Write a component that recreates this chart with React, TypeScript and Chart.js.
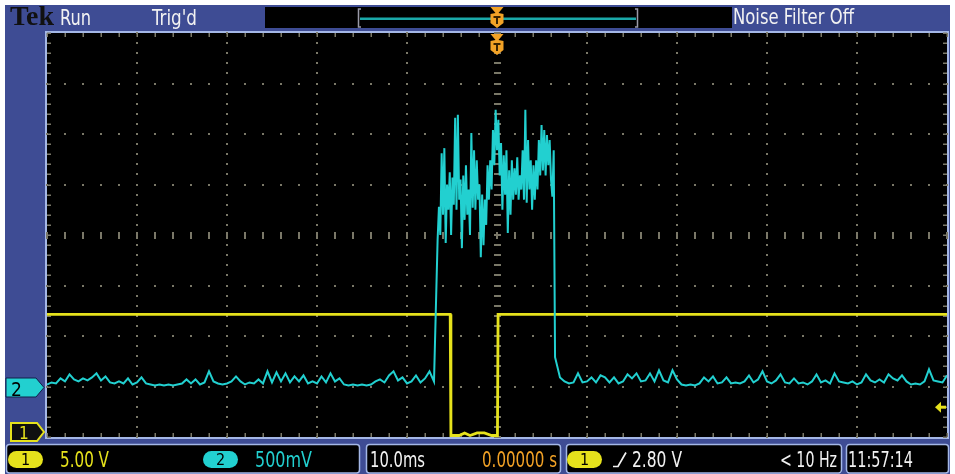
import React, { useEffect, useLayoutEffect, useRef } from "react";
import { Chart, registerables } from "chart.js";
Chart.register(...registerables);

// ---------------- data ----------------
// horizontal: 10.0 ms/div, 10 divisions, trigger at 0 s (centre)
const timeRangeMs = [-50, 50];
const timeMajorMs = 10;
const timeMinorMs = 2;
// vertical graticule in divisions
const divRange = [-4, 4];
const divMinor = 0.2;

// Channel 1 (yellow) 5.00 V/div
const ch1VoltsPerDiv = 5;
const ch1OffsetDiv = -3.97;
const ch1Time = [-50, -5.2, -5.12, -4.2, -3.6, -3.0, -2.2, -1.4, -0.6, 0.05, 0.12, 50];
const ch1Volts = [12, 12, 0, 0, 0.25, 0, 0.25, 0.25, 0, 0, 12, 12];
const triggerLevelV = 2.8;
const triggerTimeMs = 0;

// Channel 2 (cyan) 500 mV/div
const ch2VoltsPerDiv = 0.5;
const ch2OffsetDiv = -3.02;
const ch2LeftStart = -50;
const ch2LeftStep = 0.5;
const ch2Left = [
  0.03, 0.05, 0.04, 0.09, 0.06, 0.13, 0.08, 0.06, 0.09, 0.07,
  0.10, 0.14, 0.07, 0.11, 0.05, 0.04, 0.06, 0.04, 0.09, 0.03,
  0.05, 0.10, 0.04, 0.03, 0.02, 0.03, 0.02, 0.03, 0.02, 0.03,
  0.04, 0.08, 0.04, 0.08, 0.03, 0.05, 0.16, 0.06, 0.04, 0.03,
  0.04, 0.06, 0.11, 0.06, 0.03, 0.05, 0.04, 0.08, 0.04, 0.16,
  0.05, 0.15, 0.06, 0.14, 0.05, 0.11, 0.06, 0.12, 0.04, 0.06,
  0.04, 0.11, 0.05, 0.14, 0.06, 0.09, 0.03, 0.02, 0.03, 0.02,
  0.03, 0.02, 0.03, 0.06, 0.08, 0.05, 0.12, 0.16, 0.07, 0.10,
  0.04, 0.06, 0.12, 0.05, 0.09, 0.16, 0.06,
];
const ch2BurstStart = -6.6;
const ch2BurstStep = 0.15;
const ch2Burst = [
  1.46, 1.79, 1.51, 2.32, 1.71, 2.37, 1.43, 2.01, 1.76, 2.13,
  1.51, 2.08, 1.81, 2.67, 1.76, 2.70, 1.86, 2.06, 1.38, 2.10,
  1.66, 2.20, 1.71, 1.96, 1.51, 2.52, 1.78, 2.35, 1.76, 2.25,
  1.86, 2.01, 1.29, 1.91, 1.41, 1.86, 1.61, 2.20, 1.86, 2.25,
  1.96, 2.55, 2.20, 2.75, 2.35, 2.65, 2.10, 2.42, 1.76, 2.30,
  1.91, 2.35, 1.53, 2.15, 1.71, 2.25, 1.86, 2.17, 1.91, 2.28,
  1.86, 2.10, 1.96, 2.35, 1.86, 2.75, 1.83, 2.45, 1.96, 2.25,
  1.76, 2.20, 1.86, 2.25, 1.96, 2.45, 2.10, 2.60, 2.15, 2.55,
  2.10, 2.50, 2.20, 2.45, 2.06, 1.89, 2.35, 0.30,
];
const ch2RightStart = 7.0;
const ch2RightStep = 0.5;
const ch2Right = [
  0.10, 0.06, 0.04, 0.05, 0.14, 0.05, 0.06, 0.10, 0.05, 0.12,
  0.10, 0.05, 0.10, 0.04, 0.06, 0.13, 0.09, 0.14, 0.06, 0.07,
  0.14, 0.06, 0.17, 0.07, 0.05, 0.17, 0.08, 0.03, 0.02, 0.03,
  0.02, 0.04, 0.10, 0.06, 0.11, 0.04, 0.05, 0.10, 0.04, 0.05,
  0.04, 0.06, 0.12, 0.05, 0.08, 0.16, 0.06, 0.04, 0.07, 0.13,
  0.05, 0.04, 0.09, 0.04, 0.05, 0.03, 0.06, 0.13, 0.05, 0.07,
  0.04, 0.14, 0.06, 0.05, 0.04, 0.06, 0.03, 0.05, 0.13, 0.07,
  0.05, 0.08, 0.05, 0.13, 0.09, 0.07, 0.12, 0.06, 0.03, 0.04,
  0.03, 0.06, 0.18, 0.07, 0.06, 0.05, 0.12,
];

// ---------------- styles ----------------
const YELLOW = "#e6e21c";
const CYAN = "#22d0d0";
const BLUE = "#3e4c94";
const EDGE = "#a4b7e6";
const GRID = "#7a7868";
const ORANGE = "#f2a226";
const FONT = '"DejaVu Sans Condensed", "DejaVu Sans", sans-serif';

const seg = (start: number, step: number, vals: number[]) =>
  vals.map((v, i) => ({ x: start + i * step, y: ch2OffsetDiv + v / ch2VoltsPerDiv }));

function roundBox(ctx: CanvasRenderingContext2D, x: number, y: number, w: number, h: number, r: number) {
  ctx.beginPath();
  ctx.moveTo(x + r, y);
  ctx.lineTo(x + w - r, y);
  ctx.quadraticCurveTo(x + w, y, x + w, y + r);
  ctx.lineTo(x + w, y + h - r);
  ctx.quadraticCurveTo(x + w, y + h, x + w - r, y + h);
  ctx.lineTo(x + r, y + h);
  ctx.quadraticCurveTo(x, y + h, x, y + h - r);
  ctx.lineTo(x, y + r);
  ctx.quadraticCurveTo(x, y, x + r, y);
  ctx.closePath();
}

function drawT(ctx: CanvasRenderingContext2D, cx: number, top: number) {
  ctx.fillStyle = ORANGE;
  ctx.beginPath();
  ctx.moveTo(cx - 6.5, top);
  ctx.lineTo(cx + 6.5, top);
  ctx.lineTo(cx + 1.5, top + 6);
  ctx.lineTo(cx + 6.5, top + 7);
  ctx.lineTo(cx + 6.5, top + 16);
  ctx.lineTo(cx, top + 21);
  ctx.lineTo(cx - 6.5, top + 16);
  ctx.lineTo(cx - 6.5, top + 7);
  ctx.lineTo(cx - 1.5, top + 6);
  ctx.closePath();
  ctx.fill();
  ctx.fillStyle = "#3a2400";
  ctx.fillRect(cx - 3.5, top + 9, 7, 2);
  ctx.fillRect(cx - 1, top + 9, 2, 8);
}

const scopePlugin = {
  id: "scope",
  beforeDraw(chart: any) {
    const ctx: CanvasRenderingContext2D = chart.ctx;
    const a = chart.chartArea;
    const W = chart.width, H = chart.height;
    ctx.save();
    ctx.fillStyle = "#ffffff";
    ctx.fillRect(0, 0, W, H);
    ctx.fillStyle = BLUE;
    ctx.fillRect(5, 5, 945, 469);
    // record view bar
    ctx.fillStyle = "#000";
    ctx.fillRect(265, 7, 467, 21);
    ctx.strokeStyle = "#9a9aa8";
    ctx.lineWidth = 1.5;
    ctx.beginPath();
    ctx.moveTo(361, 9); ctx.lineTo(358.5, 9); ctx.lineTo(358.5, 27); ctx.lineTo(361, 27);
    ctx.moveTo(635, 9); ctx.lineTo(637.5, 9); ctx.lineTo(637.5, 27); ctx.lineTo(635, 27);
    ctx.stroke();
    ctx.fillStyle = "#1aa9a9";
    ctx.fillRect(360, 17.5, 276, 2.5);
    // plot area
    ctx.fillStyle = "#000";
    ctx.fillRect(a.left, a.top, a.right - a.left, a.bottom - a.top);
    ctx.strokeStyle = EDGE;
    ctx.lineWidth = 2;
    ctx.strokeRect(a.left - 1, a.top - 1, a.right - a.left + 2, a.bottom - a.top + 2);
    // status boxes
    const boxes = [[6, 360], [366, 561], [566, 842], [846, 949]];
    for (const [x0, x1] of boxes) {
      roundBox(ctx, x0 + 0.5, 444.5, x1 - x0 - 1, 28.5, 3);
      ctx.fillStyle = "#000";
      ctx.fill();
      ctx.strokeStyle = EDGE;
      ctx.lineWidth = 1.5;
      ctx.stroke();
    }
    ctx.fillStyle = BLUE;
    for (const gx of [363, 563.5, 844]) {
      ctx.beginPath();
      ctx.moveTo(gx - 4, 443); ctx.lineTo(gx + 4, 443); ctx.lineTo(gx, 449); ctx.closePath(); ctx.fill();
      ctx.beginPath();
      ctx.moveTo(gx - 4, 474); ctx.lineTo(gx + 4, 474); ctx.lineTo(gx, 468); ctx.closePath(); ctx.fill();
    }
    ctx.restore();
  },
  beforeDatasetsDraw(chart: any) {
    const ctx: CanvasRenderingContext2D = chart.ctx;
    const a = chart.chartArea;
    const xs = chart.scales.x, ys = chart.scales.y;
    ctx.save();
    ctx.fillStyle = GRID;
    const nXMinor = Math.round((timeRangeMs[1] - timeRangeMs[0]) / timeMinorMs);
    const nYMinor = Math.round((divRange[1] - divRange[0]) / divMinor);
    const xMinorPx: number[] = [];
    for (let i = 0; i <= nXMinor; i++) xMinorPx.push(Math.round(xs.getPixelForValue(timeRangeMs[0] + i * timeMinorMs)));
    const yMinorPx: number[] = [];
    for (let i = 0; i <= nYMinor; i++) yMinorPx.push(Math.round(ys.getPixelForValue(divRange[0] + i * divMinor)));
    const cx = Math.round(xs.getPixelForValue(triggerTimeMs));
    const cy = Math.round(ys.getPixelForValue(0));
    // dotted major lines
    for (let t = timeRangeMs[0] + timeMajorMs; t < timeRangeMs[1]; t += timeMajorMs) {
      const px = Math.round(xs.getPixelForValue(t));
      if (px === cx) continue;
      for (const py of yMinorPx) ctx.fillRect(px - 1, py - 1, 2, 2);
    }
    for (let d = divRange[0] + 1; d < divRange[1]; d += 1) {
      const py = Math.round(ys.getPixelForValue(d));
      if (py === cy) continue;
      for (const px of xMinorPx) ctx.fillRect(px - 1, py - 1, 2, 2);
    }
    // centre cross with minor ticks
    for (const py of yMinorPx) ctx.fillRect(cx - 3, py - 1, 7, 2);
    for (const px of xMinorPx) ctx.fillRect(px - 1, cy - 3, 2, 7);
    // edge ticks
    for (const px of xMinorPx) {
      ctx.fillRect(px - 0.5, a.top, 1.5, 4);
      ctx.fillRect(px - 0.5, a.bottom - 4, 1.5, 4);
    }
    for (const py of yMinorPx) {
      ctx.fillRect(a.left, py - 0.5, 4, 1.5);
      ctx.fillRect(a.right - 4, py - 0.5, 4, 1.5);
    }
    ctx.restore();
  },
  afterDraw(chart: any) {
    const ctx: CanvasRenderingContext2D = chart.ctx;
    const a = chart.chartArea;
    const xs = chart.scales.x, ys = chart.scales.y;
    ctx.save();
    const tx = xs.getPixelForValue(triggerTimeMs);
    drawT(ctx, tx, 7);
    drawT(ctx, tx, a.top + 1);
    // channel 2 marker
    const y2 = ys.getPixelForValue(ch2OffsetDiv);
    ctx.beginPath();
    ctx.moveTo(6, y2 - 9.5); ctx.lineTo(36, y2 - 9.5); ctx.lineTo(44, y2); ctx.lineTo(36, y2 + 9.5); ctx.lineTo(6, y2 + 9.5);
    ctx.closePath();
    ctx.fillStyle = CYAN;
    ctx.fill();
    ctx.strokeStyle = "#10204a";
    ctx.lineWidth = 1;
    ctx.stroke();
    // channel 1 marker (clipped at bottom)
    const y1 = Math.min(ys.getPixelForValue(ch1OffsetDiv), a.bottom - 5);
    ctx.beginPath();
    ctx.moveTo(11, y1 - 9); ctx.lineTo(37, y1 - 9); ctx.lineTo(44, y1); ctx.lineTo(37, y1 + 9); ctx.lineTo(11, y1 + 9);
    ctx.closePath();
    ctx.fillStyle = "#101010";
    ctx.fill();
    ctx.strokeStyle = YELLOW;
    ctx.lineWidth = 2;
    ctx.stroke();
    // trigger level arrow
    const yt = ys.getPixelForValue(ch1OffsetDiv + triggerLevelV / ch1VoltsPerDiv);
    ctx.fillStyle = YELLOW;
    ctx.beginPath();
    ctx.moveTo(a.right - 12, yt); ctx.lineTo(a.right - 6, yt - 5.5); ctx.lineTo(a.right - 6, yt + 5.5); ctx.closePath();
    ctx.fill();
    ctx.fillRect(a.right - 7, yt - 1.5, 6, 3);
    ctx.restore();
  },
};

function Txt(props: { x: number; cap: number; size: number; color: string; w?: number; family?: string; weight?: string; capOff?: number; children: any }) {
  const ref = useRef<HTMLSpanElement>(null);
  useLayoutEffect(() => {
    const el = ref.current;
    if (!el || !props.w) return;
    el.style.transform = "none";
    const nat = el.getBoundingClientRect().width;
    if (nat > 0) el.style.transform = `scaleX(${props.w / nat})`;
  });
  const off = props.capOff ?? 0.116;
  return (
    <span
      ref={ref}
      style={{
        position: "absolute",
        left: props.x,
        top: props.cap - off * props.size,
        fontSize: props.size,
        lineHeight: `${props.size}px`,
        color: props.color,
        fontFamily: props.family || FONT,
        fontWeight: (props.weight as any) || "normal",
        whiteSpace: "nowrap",
        transformOrigin: "0 0",
      }}
    >
      {props.children}
    </span>
  );
}

function Pill(props: { x: number; bg: string; label: string }) {
  return (
    <div
      style={{
        position: "absolute", left: props.x, top: 451, width: 35, height: 17, borderRadius: 9,
        background: props.bg, color: "#000", fontFamily: FONT, fontSize: 16, lineHeight: "17px",
        textAlign: "center",
      }}
    >
      {props.label}
    </div>
  );
}

export default function App() {
  const canvasRef = useRef<HTMLCanvasElement>(null);
  useEffect(() => {
    document.body.style.margin = "0";
    const canvas = canvasRef.current;
    if (!canvas) return;
    const ch2Points = [
      ...seg(ch2LeftStart, ch2LeftStep, ch2Left),
      ...seg(ch2BurstStart, ch2BurstStep, ch2Burst),
      ...seg(ch2RightStart, ch2RightStep, ch2Right),
    ];
    const ch1Points = ch1Time.map((t, i) => ({ x: t, y: ch1OffsetDiv + ch1Volts[i] / ch1VoltsPerDiv }));
    const chart = new Chart(canvas, {
      type: "line",
      data: {
        datasets: [
          { label: "CH2", data: ch2Points, borderColor: CYAN, borderWidth: 2, pointRadius: 0, tension: 0, fill: false },
          { label: "CH1", data: ch1Points, borderColor: YELLOW, borderWidth: 2.8, pointRadius: 0, tension: 0, fill: false },
        ],
      },
      options: {
        animation: false,
        responsive: false,
        layout: { padding: { left: 47, top: 33, right: 8, bottom: 37 } },
        scales: {
          x: { type: "linear", min: timeRangeMs[0], max: timeRangeMs[1], display: false },
          y: { type: "linear", min: divRange[0], max: divRange[1], display: false },
        },
        plugins: { legend: { display: false }, tooltip: { enabled: false } },
        events: [],
      },
      plugins: [scopePlugin as any],
    });
    return () => chart.destroy();
  }, []);

  return (
    <div style={{ position: "fixed", left: 0, top: 0, width: 955, height: 474, overflow: "hidden", background: "#fff" }}>
      <canvas ref={canvasRef} width={955} height={474} style={{ position: "absolute", left: 0, top: 0 }} />
      {/* top bar */}
      <Txt x={10} cap={7} size={28} w={44} color="#111" family='"Liberation Serif", serif' weight="bold" capOff={0.176}>Tek</Txt>
      <Txt x={60} cap={10} size={22} w={31} color="#f2f2f2">Run</Txt>
      <Txt x={152} cap={10} size={22} w={45} color="#f2f2f2">Trig'd</Txt>
      <Txt x={733} cap={9} size={22} w={121} color="#f2f2f2">Noise Filter Off</Txt>
      {/* channel markers */}
      <Txt x={11} cap={382} size={19} color="#000">2</Txt>
      <Txt x={19} cap={427} size={17} color={YELLOW}>1</Txt>
      {/* status bar */}
      <Pill x={8} bg={YELLOW} label="1" />
      <Txt x={60} cap={452} size={20.5} w={49} color={YELLOW}>5.00 V</Txt>
      <Pill x={203} bg={CYAN} label="2" />
      <Txt x={255} cap={452} size={20.5} w={57} color={CYAN}>500mV</Txt>
      <Txt x={370} cap={452} size={20.5} w={55} color="#f2f2f2">10.0ms</Txt>
      <Txt x={482} cap={452} size={20.5} w={75} color={ORANGE}>0.00000 s</Txt>
      <Pill x={567} bg={YELLOW} label="1" />
      <svg style={{ position: "absolute", left: 612, top: 451 }} width={18} height={17}>
        <polyline points="1,15.5 6,15.5 14,1.5" fill="none" stroke="#f2f2f2" strokeWidth={1.7} />
      </svg>
      <Txt x={632} cap={452} size={20.5} w={50} color="#f2f2f2">2.80 V</Txt>
      <Txt x={780} cap={452} size={20.5} w={57} color="#f2f2f2">{"< 10 Hz"}</Txt>
      <Txt x={848} cap={452} size={20.5} w={65} color="#f2f2f2">11:57:14</Txt>
    </div>
  );
}
